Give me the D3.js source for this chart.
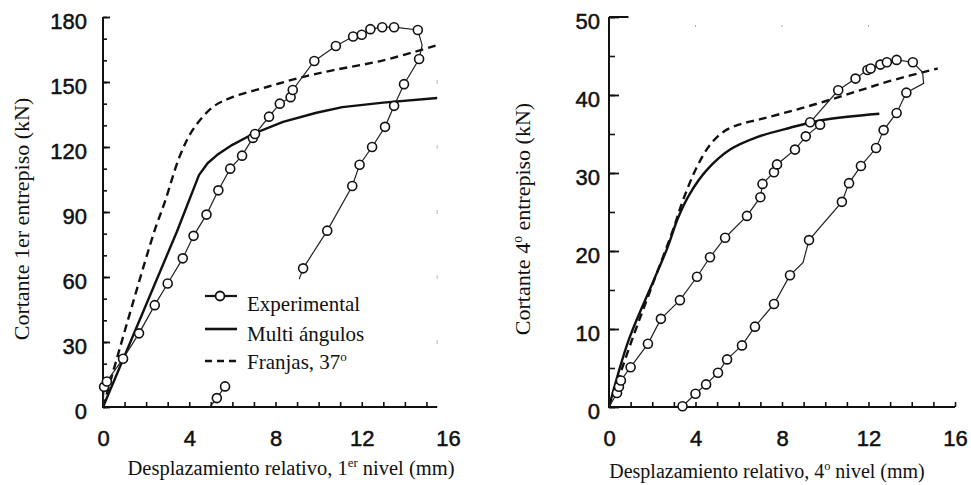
<!DOCTYPE html>
<html>
<head>
<meta charset="utf-8">
<script src="https://cdn.jsdelivr.net/npm/d3@7"></script>
<style>
  body { margin: 0; background: #fff; }
  svg { display: block; }
</style>
</head>
<body>
<svg id="chart" width="971" height="485"></svg>
<script>
// Shear vs. relative storey drift. Points are [drift (mm), shear (kN), reading],
// where reading = 1 marks a measured value drawn with a circle.

// 1st storey – test record (loading to peak, then unloading branch)
const expStorey1 = [
  [0, 0, 0], [0.05, 9.3, 1], [0.18, 11.8, 1], [0.93, 22.3, 1], [1.67, 34, 1],
  [2.4, 47, 1], [3.0, 57, 1], [3.7, 68.6, 1], [4.2, 79, 1], [4.8, 88.8, 1],
  [5.35, 100, 1], [5.9, 110, 1], [6.45, 116, 1], [6.95, 124.2, 1], [7.05, 126, 1],
  [7.7, 134, 1], [8.2, 140, 1], [8.7, 143, 1], [8.8, 146.3, 1], [9.8, 159.7, 1],
  [10.8, 166.6, 1], [11.6, 171, 1], [12.0, 171.8, 1], [12.4, 174.4, 1],
  [12.95, 175.3, 1], [13.5, 175.3, 1], [14.6, 174, 1], [14.8, 167, 0],
  [14.66, 160.6, 1], [13.96, 149, 1], [13.5, 139, 1], [13.08, 129.3, 1],
  [12.48, 120, 1], [11.9, 111.8, 1], [11.56, 102, 1], [10.4, 81.4, 1],
  [9.28, 64, 1], [9.1, 59, 0]
];
// 1st storey – start of the reloading cycle
const expStorey1Reload = [[4.95, 0, 0], [5.28, 4.1, 1], [5.66, 9.5, 1]];
// 1st storey – multi-angle model
const multiStorey1 = [
  [0, 0], [3.43, 81], [4.45, 107], [4.85, 112.5], [5.3, 116.4], [6.0, 121],
  [6.95, 126], [8.35, 131.6], [9.9, 135.8], [11.1, 138.4], [13.0, 140.5], [15.5, 142.6]
];
// 1st storey – strip model, 37°
const stripStorey1 = [
  [0, 0], [2.33, 79.5], [2.88, 95], [3.57, 116], [4.17, 128], [5.1, 138.5],
  [6.0, 143], [7.6, 147.7], [9.1, 151.9], [10.7, 155.5], [13.0, 160], [15.5, 167]
];

// 4th storey – test record
const expStorey4 = [
  [0, 0, 0], [0.37, 1.8, 1], [0.46, 2.6, 1], [0.55, 3.4, 1], [1.0, 5.1, 1],
  [1.8, 8.1, 1], [2.4, 11.3, 1], [3.28, 13.7, 1], [4.07, 16.7, 1], [4.67, 19.2, 1],
  [5.37, 21.7, 1], [6.38, 24.5, 1], [7.0, 26.9, 1], [7.1, 28.6, 1], [7.63, 30.1, 1],
  [7.77, 31.1, 1], [8.6, 33, 1], [9.1, 34.7, 1], [9.76, 36.2, 1], [9.3, 36.5, 1],
  [10.6, 40.6, 1], [11.4, 42.1, 1], [11.95, 43.2, 1], [12.1, 43.4, 1],
  [12.55, 43.9, 1], [12.85, 44.2, 1], [13.3, 44.5, 1], [14.05, 44.2, 1],
  [14.5, 42.9, 0], [14.55, 41.5, 0], [13.75, 40.3, 1], [13.3, 37.7, 1],
  [12.7, 35.5, 1], [12.35, 33.2, 1], [11.65, 30.9, 1], [11.1, 28.7, 1],
  [10.77, 26.3, 1], [9.25, 21.4, 1], [8.97, 18.5, 0], [8.37, 16.9, 1],
  [7.63, 13.2, 1], [6.75, 10.3, 1], [6.15, 7.9, 1], [5.46, 6.1, 1],
  [5.04, 4.4, 1], [4.49, 2.9, 1], [4.0, 1.7, 1], [3.4, 0.1, 1]
];
// 4th storey – multi-angle model
const multiStorey4 = [
  [0, 0], [0.9, 8.5], [2.0, 15.8], [2.7, 20.4], [3.2, 24.3], [3.75, 27.4],
  [4.53, 30.4], [5.6, 33], [6.85, 34.6], [8.37, 35.8], [9.9, 36.8], [12.5, 37.6]
];
// 4th storey – strip model, 37°
const stripStorey4 = [
  [0, 0], [1.05, 8.5], [2.0, 15.6], [2.96, 22.7], [3.42, 26.5], [4.07, 30.8],
  [4.67, 33.6], [5.3, 35.3], [6.0, 36.2], [7.0, 36.9], [8.5, 38.0], [10.0, 39.2],
  [11.5, 40.5], [13.0, 41.8], [15.2, 43.4]
];

const xTickLabels = [0, 4, 8, 12, 16];
const yTickLabels1 = [0, 30, 60, 90, 120, 150, 180];
const yTickLabels4 = [0, 10, 20, 30, 40, 50];
const legendLabels = ["Experimental", "Multi ángulos", "Franjas, 37"];

const svg = d3.select("#chart");
const INK = "#111";
const TICK_FONT = "'Liberation Sans', Arial, sans-serif";
const TEXT_FONT = "'Liberation Serif', 'Times New Roman', serif";

function drawPanel(p) {
  const x = d3.scaleLinear().domain([0, 16]).range([p.left, p.right]);
  const y = d3.scaleLinear().domain([0, p.yMax]).range([407, 17]);
  const g = svg.append("g");

  // axis lines
  g.append("line")
    .attr("x1", x(0)).attr("x2", x(p.xEnd)).attr("y1", y(0)).attr("y2", y(0))
    .attr("stroke", INK).attr("stroke-width", 2);
  g.append("line")
    .attr("x1", x(0)).attr("x2", x(0)).attr("y1", y(0) + 1).attr("y2", y(p.yMax))
    .attr("stroke", INK).attr("stroke-width", 2);

  // inward x ticks every 1 mm
  g.append("g").attr("transform", `translate(0,${y(0)})`)
    .call(d3.axisBottom(x).tickValues(d3.range(0, p.xEnd + 0.01, 1)).tickSize(-5).tickFormat(""))
    .call(s => s.select(".domain").remove())
    .call(s => s.selectAll("line").attr("stroke", INK).attr("stroke-width", 1.6));
  // x labels
  g.append("g").attr("transform", `translate(0,${y(0)})`)
    .call(d3.axisBottom(x).tickValues(xTickLabels).tickSize(0).tickPadding(23))
    .call(s => s.select(".domain").remove())
    .call(s => s.selectAll("text")
      .attr("font-family", TICK_FONT).attr("font-size", 22).attr("fill", INK)
      .attr("stroke", INK).attr("stroke-width", 0.5));

  // inward y ticks: minor then major
  g.append("g").attr("transform", `translate(${x(0)},0)`)
    .call(d3.axisLeft(y).tickValues(d3.range(0, p.yMax + 0.01, p.yMinor)).tickSize(-p.minorLen).tickFormat(""))
    .call(s => s.select(".domain").remove())
    .call(s => s.selectAll("line").attr("stroke", INK).attr("stroke-width", 1.6));
  g.append("g").attr("transform", `translate(${x(0)},0)`)
    .call(d3.axisLeft(y).tickValues(p.yLabels).tickSize(-p.majorLen).tickPadding(p.labelPad))
    .call(s => s.select(".domain").remove())
    .call(s => s.selectAll("line").attr("stroke", INK).attr("stroke-width", 1.8))
    .call(s => s.selectAll("text")
      .attr("font-family", TICK_FONT).attr("font-size", 22).attr("fill", INK)
      .attr("stroke", INK).attr("stroke-width", 0.5).attr("dy", "0.5em"));

  const line = d3.line().x(d => x(d[0])).y(d => y(d[1]));
  const smooth = d3.line().x(d => x(d[0])).y(d => y(d[1])).curve(d3.curveCatmullRom.alpha(0.5));

  // models
  g.append("path").datum(p.multi).attr("d", p.multiSharp ? line : smooth)
    .attr("fill", "none").attr("stroke", INK).attr("stroke-width", 2.4)
    .attr("stroke-linejoin", "round");
  g.append("path").datum(p.strip).attr("d", smooth)
    .attr("fill", "none").attr("stroke", INK).attr("stroke-width", 2.4)
    .attr("stroke-dasharray", "8,5");

  // test records
  p.exp.forEach(series => {
    g.append("path").datum(series).attr("d", line)
      .attr("fill", "none").attr("stroke", "#222").attr("stroke-width", 1.2);
    g.selectAll(null).data(series.filter(d => d[2] === 1)).join("circle")
      .attr("cx", d => x(d[0])).attr("cy", d => y(d[1])).attr("r", 4.5)
      .attr("fill", "#fff").attr("stroke", INK).attr("stroke-width", 1.6);
  });

  return { g, x, y };
}

// ----- 1st storey -----
const left = drawPanel({
  left: 103, right: 448, xEnd: 15.5, yMax: 180, yMinor: 10, yLabels: yTickLabels1,
  minorLen: 4, majorLen: 7, labelPad: 16, multiSharp: true,
  multi: multiStorey1, strip: stripStorey1, exp: [expStorey1, expStorey1Reload]
});
// faint right-hand ticks
left.g.selectAll(null).data([30, 60, 90, 120, 150]).join("line")
  .attr("x1", left.x(15.5)).attr("x2", left.x(15.5))
  .attr("y1", d => left.y(d) - 2).attr("y2", d => left.y(d) + 2)
  .attr("stroke", "#bbb").attr("stroke-width", 1);

// ----- 4th storey -----
const right = drawPanel({
  left: 609, right: 955, xEnd: 16, yMax: 50, yMinor: 5, yLabels: yTickLabels4,
  minorLen: 6, majorLen: 10, labelPad: 9, multiSharp: false,
  multi: multiStorey4, strip: stripStorey4, exp: [expStorey4]
});
// short top border stub and faint top ticks
right.g.append("line")
  .attr("x1", right.x(0)).attr("x2", right.x(0.9)).attr("y1", right.y(50)).attr("y2", right.y(50))
  .attr("stroke", INK).attr("stroke-width", 2);
right.g.selectAll(null).data([4, 8, 12]).join("line")
  .attr("x1", d => right.x(d)).attr("x2", d => right.x(d))
  .attr("y1", right.y(50) + 8).attr("y2", right.y(50) + 10)
  .attr("stroke", "#aaa").attr("stroke-width", 1);

// ----- legend (1st storey panel) -----
const lg = svg.append("g");
lg.append("rect").attr("x", 200).attr("y", 284).attr("width", 236).attr("height", 90).attr("fill", "#fff");
const rows = [296, 329, 361];
const baselines = [311, 341, 369];
lg.append("line").attr("x1", 205).attr("x2", 237).attr("y1", rows[0]).attr("y2", rows[0])
  .attr("stroke", INK).attr("stroke-width", 2.2);
lg.append("circle").attr("cx", 220).attr("cy", rows[0]).attr("r", 4.5)
  .attr("fill", "#fff").attr("stroke", INK).attr("stroke-width", 1.8);
lg.append("line").attr("x1", 205).attr("x2", 237).attr("y1", rows[1]).attr("y2", rows[1])
  .attr("stroke", INK).attr("stroke-width", 2.6);
lg.append("line").attr("x1", 205).attr("x2", 237).attr("y1", rows[2]).attr("y2", rows[2])
  .attr("stroke", INK).attr("stroke-width", 2.4).attr("stroke-dasharray", "7,5");
legendLabels.forEach((t, i) => {
  const tx = lg.append("text").attr("x", 247).attr("y", baselines[i])
    .attr("font-family", TEXT_FONT).attr("font-size", 21).attr("fill", INK).text(t);
  if (i === 2) tx.append("tspan").attr("dy", -8).attr("font-size", 13).text("o");
});

// ----- axis titles; parts flagged true are raised superscripts -----
function title(x, y, rot, size, parts) {
  const t = svg.append("text")
    .attr("transform", `translate(${x},${y}) rotate(${rot})`)
    .attr("text-anchor", "middle")
    .attr("font-family", TEXT_FONT).attr("font-size", size).attr("fill", INK);
  let raised = false;
  parts.forEach(([s, sup]) => {
    const ts = t.append("tspan").text(s);
    if (sup && !raised) { ts.attr("font-size", size * 0.62).attr("dy", -8); raised = true; }
    else if (!sup && raised) { ts.attr("dy", 8); raised = false; }
  });
  return t;
}
title(291, 475, 0, 20.5, [["Desplazamiento relativo, 1"], ["er", true], [" nivel (mm)"]]);
title(767, 478, 0, 20, [["Desplazamiento relativo, 4"], ["o", true], [" nivel (mm)"]]);
title(29, 219, -90, 22, [["Cortante 1er entrepiso (kN)"]]);
title(530, 219, -90, 22, [["Cortante 4"], ["o", true], [" entrepiso (kN)"]]);
</script>
</body>
</html>
